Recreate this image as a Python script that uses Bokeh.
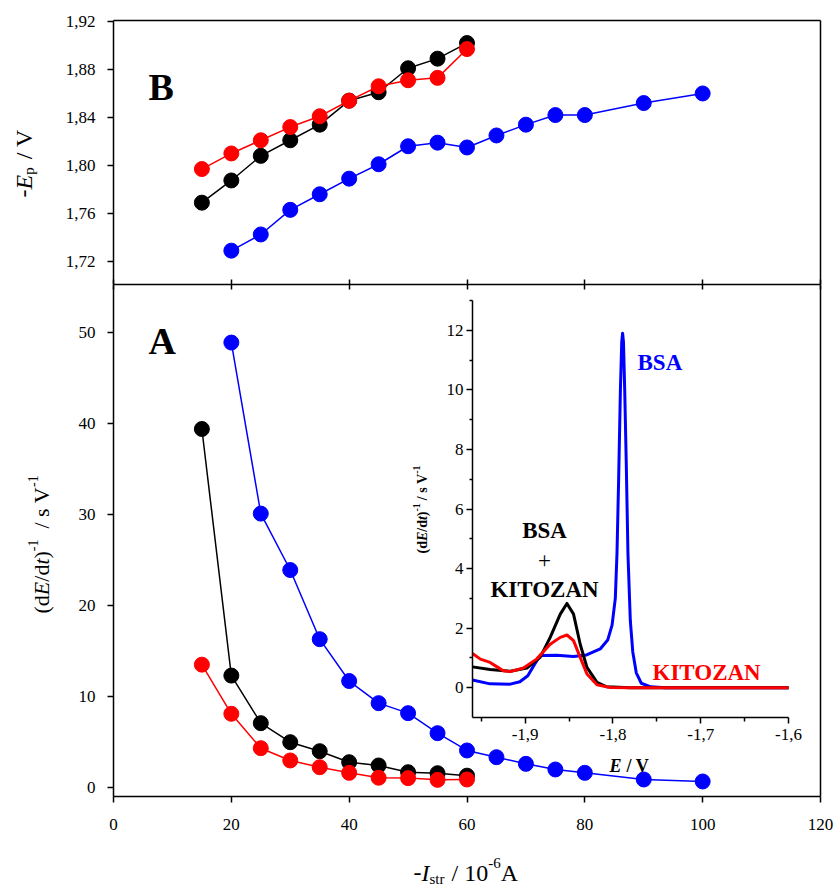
import math
from bokeh.plotting import figure
from bokeh.models import (ColumnDataSource, FixedTicker, LinearAxis, Range1d, Label,
                          CustomJSTickFormatter)
from bokeh.embed import file_html
from bokeh.resources import INLINE

# ---------------- data ----------------
current_black = [15, 20, 25, 30, 35, 40, 45, 50, 55, 60]
current_red = [15, 20, 25, 30, 35, 40, 45, 50, 55, 60]
current_blue = [20, 25, 30, 35, 40, 45, 50, 55, 60, 65, 70, 75, 80, 90, 100]

ep_black = [1.769, 1.7875, 1.808, 1.821, 1.834, 1.854, 1.861, 1.881, 1.889, 1.902]
ep_red = [1.797, 1.810, 1.821, 1.832, 1.841, 1.854, 1.866, 1.871, 1.873, 1.897]
ep_blue = [1.729, 1.7425, 1.763, 1.776, 1.789, 1.801, 1.816, 1.819, 1.815, 1.825,
           1.834, 1.842, 1.842, 1.852, 1.860]

inv_black = [39.4, 12.3, 7.07, 4.98, 3.99, 2.78, 2.42, 1.68, 1.57, 1.3]
inv_red = [13.5, 8.1, 4.32, 2.97, 2.23, 1.61, 1.07, 1.03, 0.84, 0.88]
inv_blue = [48.9, 30.1, 23.9, 16.3, 11.7, 9.27, 8.17, 5.97, 4.07, 3.33, 2.6, 1.98,
            1.61, 0.88, 0.66]

# inset: derivative curves vs potential
e_bsa = [-1.96, -1.94, -1.917, -1.906, -1.897, -1.889, -1.883, -1.864, -1.845, -1.83,
         -1.8145, -1.806, -1.801, -1.7973, -1.7954, -1.7935, -1.7915, -1.790, -1.789,
         -1.788, -1.7866, -1.7848, -1.7829, -1.7802, -1.7774, -1.7734, -1.7677, -1.757,
         -1.74, -1.6]
d_bsa = [0.26, 0.13, 0.12, 0.2, 0.4, 0.8, 1.08, 1.09, 1.05, 1.1,
         1.3, 1.6, 2.1, 3.0, 4.5, 7.0, 10.0, 11.6, 11.9,
         11.6, 10.0, 7.5, 4.5, 2.25, 1.2, 0.5, 0.15, 0.03,
         0.0, 0.0]
e_mix = [-1.96, -1.94, -1.917, -1.898, -1.883, -1.8715, -1.86, -1.8524, -1.8449,
         -1.8373, -1.8296, -1.8182, -1.807, -1.78, -1.6]
d_mix = [0.70, 0.61, 0.55, 0.66, 1.02, 1.69, 2.47, 2.83, 2.47, 1.46, 0.68, 0.18, 0.03,
         0.0, 0.0]
e_kit = [-1.96, -1.951, -1.94, -1.932, -1.925, -1.917, -1.902, -1.887, -1.8715, -1.86,
         -1.8524, -1.8449, -1.8373, -1.8296, -1.8182, -1.803, -1.78, -1.6]
d_kit = [1.15, 0.96, 0.85, 0.70, 0.57, 0.54, 0.66, 0.96, 1.46, 1.69, 1.77, 1.58, 1.02,
         0.46, 0.10, 0.01, 0.0, 0.0]

# ticks / tick labels
x_ticks = [0, 20, 40, 60, 80, 100, 120]
ep_ticks = [1.72, 1.76, 1.80, 1.84, 1.88, 1.92]
ep_labels = ["1,72", "1,76", "1,80", "1,84", "1,88", "1,92"]
inv_ticks = [0, 10, 20, 30, 40, 50]
inset_y_ticks = [0, 2, 4, 6, 8, 10, 12]
inset_y_minor = [1, 3, 5, 7, 9, 11, 13]
inset_x_ticks = [-1.9, -1.8, -1.7, -1.6]
inset_x_labels = ["-1,9", "-1,8", "-1,7", "-1,6"]
inset_x_minor = [-1.95, -1.85, -1.75, -1.65]

# ---------------- layout constants (page pixels) ----------------
W, H = 836, 885
SERIF = "Liberation Serif"
X_LIM, X_PX = (0, 120), (113, 820)
B_LIM, B_PX = (1.7008, 1.9208), (284, 20)
A_LIM, A_PX = (-0.99, 55.17), (796, 285)
E_LIM, E_PX = (-1.96, -1.6), (472, 788)
IY_LIM, IY_PX = (-1.0, 13.0), (717, 300)

BLUE, RED, BLACK = "#0000ff", "#ff0000", "#000000"

REG = {'(': .333, ')': .333, 'd': .5, '/': .278, ' ': .25, 's': .389, 'V': .722,
       '-': .333, '1': .5, '0': .5, '6': .5, 'A': .722, 't': .278, 'r': .333,
       'p': .5, 'E': .611, 'I': .333}
BLD = {'(': .333, ')': .333, 'd': .556, '/': .278, ' ': .25, 's': .389, 'V': .722,
       '-': .333, '1': .5, 'E': .667, 't': .278}

LOOKUP_JS = """
const i = tvals.findIndex(t => Math.abs(t - tick) < 1e-6);
return i >= 0 ? tlabels[i] : '';
"""


def mk_range(lim, px, p_start, p_end):
    s = (lim[1] - lim[0]) / (px[1] - px[0])
    return Range1d(lim[0] + (p_start - px[0]) * s, lim[0] + (p_end - px[0]) * s)


def twidth(s, style, size):
    tab = BLD if "bold" in style else REG
    return sum(tab.get(c, 0.5) for c in s) * size


def rich(fig, px, py, parts, angle=0.0, color=BLACK):
    cum = 0.0
    for part in parts:
        if part[0] == "gap":
            cum += part[1]
            continue
        text, style, size, shift = part
        if angle == 0.0:
            sx, sy = px + cum, py - shift
        else:
            sx, sy = px - shift, py - cum
        fig.add_layout(Label(x=sx, y=sy, text=text, text_font=SERIF,
                             text_font_size=f"{size}px", text_font_style=style,
                             text_color=color, angle=angle,
                             text_align="left", text_baseline="alphabetic"))
        cum += twidth(text, style, size)


def label(fig, px, py, text, size, style="bold", color=BLACK, align="left"):
    fig.add_layout(Label(x=px, y=py, text=text, text_font=SERIF,
                         text_font_size=f"{size}px", text_font_style=style,
                         text_color=color, text_align=align, text_baseline="alphabetic"))


def axis(xr, yr, loc, bounds, ticks=(), minor=(), fmt=None, size="17px", standoff=12,
         t_out=6, t_in=0, m_out=0, show_labels=True):
    ax = LinearAxis(x_range_name=xr, y_range_name=yr, fixed_location=loc, bounds=bounds,
                    ticker=FixedTicker(ticks=list(ticks), minor_ticks=list(minor)))
    if fmt is not None:
        ax.formatter = fmt
    ax.axis_line_color = BLACK
    ax.axis_line_width = 1.5
    ax.major_tick_line_color = BLACK
    ax.major_tick_line_width = 1.5
    ax.major_tick_in = t_in
    ax.major_tick_out = t_out
    ax.minor_tick_line_color = BLACK
    ax.minor_tick_line_width = 1.5
    ax.minor_tick_in = 0
    ax.minor_tick_out = m_out
    ax.major_label_text_font = SERIF
    ax.major_label_text_font_size = size
    ax.major_label_text_color = BLACK
    ax.major_label_standoff = standoff
    if not show_labels:
        ax.major_label_text_alpha = 0
    return ax


p = figure(width=W, height=H, x_range=Range1d(0, W), y_range=Range1d(H, 0),
           x_axis_type=None, y_axis_type=None, min_border=0,
           output_backend="svg", toolbar_location=None)
p.outline_line_color = None
p.background_fill_color = "white"
p.border_fill_color = "white"

p.extra_x_ranges = {"xm": mk_range(X_LIM, X_PX, 0, W), "E": mk_range(E_LIM, E_PX, 0, W)}
p.extra_y_ranges = {"yB": mk_range(B_LIM, B_PX, H, 0), "yA": mk_range(A_LIM, A_PX, H, 0),
                    "inset": mk_range(IY_LIM, IY_PX, H, 0)}

# ---------------- panel B ----------------
ep_fmt = CustomJSTickFormatter(args=dict(tvals=ep_ticks, tlabels=ep_labels), code=LOOKUP_JS)
p.add_layout(axis("xm", "yB", X_LIM[0], B_LIM, ep_ticks, fmt=ep_fmt), "left")
p.add_layout(axis("xm", "yB", B_LIM[1], X_LIM, t_out=0), "above")
p.add_layout(axis("xm", "yB", X_LIM[1], B_LIM, t_out=0), "right")
p.add_layout(axis("xm", "yB", B_LIM[0], X_LIM, x_ticks, t_out=5, t_in=5,
                  show_labels=False), "below")

for xs, ys, col in [(current_blue, ep_blue, BLUE), (current_black, ep_black, BLACK),
                    (current_red, ep_red, RED)]:
    src = ColumnDataSource(dict(x=xs, y=ys))
    p.line("x", "y", source=src, line_color=col, line_width=1.5,
           x_range_name="xm", y_range_name="yB")
    p.scatter("x", "y", source=src, size=15, fill_color=col, line_color=col,
              x_range_name="xm", y_range_name="yB")

label(p, 148, 86, "B", 38)
rich(p, 23, 197,
     [("-", "normal", 24, 0), ("E", "italic", 24, 0), ("p", "normal", 15, -5), ("gap", 8),
      ("/ V", "normal", 24, 0)], angle=math.pi / 2)

# ---------------- panel A ----------------
p.add_layout(axis("xm", "yA", X_LIM[0], A_LIM, inv_ticks), "left")
p.add_layout(axis("xm", "yA", A_LIM[0], X_LIM, x_ticks, standoff=16), "below")
p.add_layout(axis("xm", "yA", X_LIM[1], A_LIM, t_out=0), "right")

for xs, ys, col in [(current_blue, inv_blue, BLUE), (current_black, inv_black, BLACK),
                    (current_red, inv_red, RED)]:
    src = ColumnDataSource(dict(x=xs, y=ys))
    p.line("x", "y", source=src, line_color=col, line_width=1.5,
           x_range_name="xm", y_range_name="yA")
    p.scatter("x", "y", source=src, size=15, fill_color=col, line_color=col,
              x_range_name="xm", y_range_name="yA")

# ---------------- inset ----------------
for xs, ys, col in [(e_bsa, d_bsa, BLUE), (e_mix, d_mix, BLACK), (e_kit, d_kit, RED)]:
    src = ColumnDataSource(dict(x=xs, y=ys))
    p.line("x", "y", source=src, line_color=col, line_width=3, line_join="round",
           x_range_name="E", y_range_name="inset")

p.add_layout(axis("E", "inset", E_LIM[0], IY_LIM, inset_y_ticks, inset_y_minor,
                  standoff=3, m_out=3), "left")
ix_fmt = CustomJSTickFormatter(args=dict(tvals=inset_x_ticks, tlabels=inset_x_labels),
                               code=LOOKUP_JS)
p.add_layout(axis("E", "inset", IY_LIM[0], E_LIM, inset_x_ticks, inset_x_minor,
                  fmt=ix_fmt, standoff=5, m_out=4), "below")

# texts panel A
label(p, 148, 340, "A", 38)
label(p, 637, 362, "BSA", 23, color=BLUE)
label(p, 544, 530, "BSA", 23, align="center")
label(p, 544, 560, "+", 23, style="normal", align="center")
label(p, 544, 589, "KITOZAN", 23, align="center")
label(p, 652, 672, "KITOZAN", 23, color=RED)

# inset axis titles
rich(p, 609, 765, [("E", "bold italic", 18, 0), ("gap", 5), ("/ V", "bold", 18, 0)])
rich(p, 422, 553,
     [("(d", "bold", 14, 0), ("E", "bold italic", 14, 0), ("/d", "bold", 14, 0),
      ("t", "bold italic", 14, 0), (")", "bold", 14, 0), ("-1", "bold", 10, 6),
      ("gap", 3), ("/ s V", "bold", 14, 0), ("-1", "bold", 10, 6)], angle=math.pi / 2)

# main axis titles
rich(p, 41, 613,
     [("(d", "normal", 22, 0), ("E", "italic", 22, 0), ("/d", "normal", 22, 0),
      ("t", "italic", 22, 0), (")", "normal", 22, 0), ("-1", "normal", 14, 9),
      ("gap", 11), ("/ s V", "normal", 22, 0), ("-1", "normal", 14, 9)], angle=math.pi / 2)
rich(p, 413, 872,
     [("-", "normal", 24, 0), ("I", "italic", 24, 0), ("str", "normal", 15, -6),
      ("gap", 7), ("/ 10", "normal", 24, 0), ("-6", "normal", 15, 10),
      ("A", "normal", 24, 0)])

open("out.html", "w").write(file_html(p, INLINE))
